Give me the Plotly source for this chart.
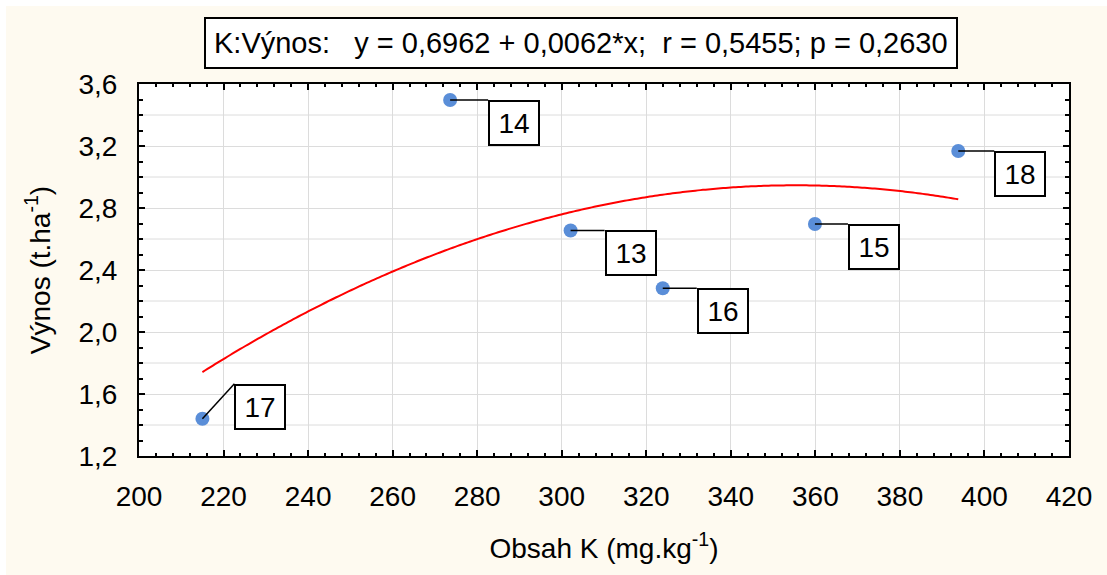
import numpy as np
import plotly.graph_objects as go

# Potassium content vs. yield for the individual plots
plot_ids = ["13", "14", "15", "16", "17", "18"]
obsah_k = [302.1, 273.6, 359.9, 323.9, 215.0, 393.8]
vynos = [2.655, 3.497, 2.697, 2.282, 1.440, 3.168]

x_ticks = [200, 220, 240, 260, 280, 300, 320, 340, 360, 380, 400, 420]
y_ticks = [1.2, 1.6, 2.0, 2.4, 2.8, 3.2, 3.6]
y_ticktext = ["1,2", "1,6", "2,0", "2,4", "2,8", "3,2", "3,6"]
y_midgrid = [1.4, 1.8, 2.2, 2.6, 3.0, 3.4]

title_text = ("K:Výnos:\u00a0\u00a0\u00a0y = 0,6962 + 0,0062*x;\u00a0\u00a0"
              "r = 0,5455; p = 0,2630")

FONT = "Liberation Sans, Arial, sans-serif"
BG = "#FEFAF0"
GRID = "#DCDCDC"

# second-order fit drawn across the observed range
coef = np.polyfit(obsah_k, vynos, 2)
xs = np.linspace(min(obsah_k), max(obsah_k), 300)
ys = np.polyval(coef, xs)

fig = go.Figure()
fig.add_trace(go.Scatter(x=xs, y=ys, mode="lines",
                         line=dict(color="#FF0000", width=2, simplify=False),
                         hoverinfo="skip", showlegend=False))
fig.add_trace(go.Scatter(x=obsah_k, y=vynos, mode="markers",
                         marker=dict(size=14, color="#5A8ED8"),
                         showlegend=False))

# label placement (pixel offsets of the box corner from each point)
label_dx = {"13": 34, "14": 38, "15": 33, "16": 34, "17": 32, "18": 36}
label_dy = {"13": 0, "14": 0, "15": 0, "16": 0, "17": 35, "18": 0}

shapes = []
annotations = []

# horizontal grid lines between the labelled ticks
for gv in y_midgrid:
    shapes.append(dict(type="line", xref="paper", yref="y", layer="below",
                       x0=0, x1=1, y0=gv, y1=gv,
                       line=dict(color=GRID, width=1)))

for pid, xv, yv in zip(plot_ids, obsah_k, vynos):
    dx, dy = label_dx[pid], label_dy[pid]
    shapes.append(dict(type="line", xref="x", yref="y",
                       xsizemode="pixel", ysizemode="pixel",
                       xanchor=xv, yanchor=yv,
                       x0=0, y0=0, x1=dx, y1=dy,
                       line=dict(color="black", width=1.5)))
    annotations.append(dict(x=xv, y=yv, xref="x", yref="y",
                            xshift=dx, yshift=dy,
                            xanchor="left", yanchor="top",
                            text=pid, showarrow=False,
                            font=dict(family=FONT, size=28, color="black"),
                            bgcolor="white", bordercolor="black",
                            borderwidth=2, borderpad=0,
                            width=48, height=42))

# equation box above the plot
annotations.append(dict(x=0.4755, y=1.11, xref="paper", yref="paper",
                        xanchor="center", yanchor="middle",
                        text=title_text, showarrow=False,
                        font=dict(family=FONT, size=29, color="black"),
                        bgcolor="white", bordercolor="black",
                        borderwidth=2, borderpad=8))

# white strips along the top and left page edges
W, H = 1107, 575
L, R, T, B = 139, 38, 84, 119
pw, ph = W - L - R, H - T - B
def px_x(p):
    return (p - L) / pw
def px_y(p):
    return (H - B - p) / ph
shapes.append(dict(type="rect", xref="paper", yref="paper", layer="below",
                   x0=px_x(0), x1=px_x(W), y0=px_y(0), y1=px_y(6),
                   fillcolor="white", line=dict(width=0)))
shapes.append(dict(type="rect", xref="paper", yref="paper", layer="below",
                   x0=px_x(0), x1=px_x(6), y0=px_y(0), y1=px_y(H),
                   fillcolor="white", line=dict(width=0)))

axis_common = dict(showline=True, linecolor="black", linewidth=2,
                   mirror="allticks", ticks="inside", tickcolor="black",
                   tickwidth=1.5, zeroline=False,
                   gridcolor=GRID, gridwidth=1,
                   tickfont=dict(family=FONT, size=28, color="black"))

fig.update_layout(
    width=W, height=H,
    margin=dict(l=L, r=R, t=T, b=B, autoexpand=False),
    paper_bgcolor=BG, plot_bgcolor="white",
    font=dict(family=FONT, size=28, color="black"),
    xaxis=dict(range=[200, 420], tickmode="array", tickvals=x_ticks,
               ticktext=[str(v) for v in x_ticks], ticklen=6,
               minor=dict(dtick=4, ticklen=3, ticks="inside",
                          tickcolor="black", showgrid=False),
               ticklabelstandoff=14,
               title=dict(text="Obsah K (mg.kg<sup>-1</sup>)", standoff=28,
                          font=dict(family=FONT, size=28)),
               **axis_common),
    yaxis=dict(range=[1.2, 3.6], tickmode="array", tickvals=y_ticks,
               ticktext=y_ticktext, ticklen=6,
               minor=dict(dtick=0.1, ticklen=4, ticks="inside",
                          tickcolor="black", showgrid=False),
               ticklabelstandoff=14,
               title=dict(text="Výnos (t.ha<sup>-1</sup>)", standoff=20,
                          font=dict(family=FONT, size=28)),
               **axis_common),
    shapes=shapes,
    annotations=annotations,
)

fig.write_html("out.html")
